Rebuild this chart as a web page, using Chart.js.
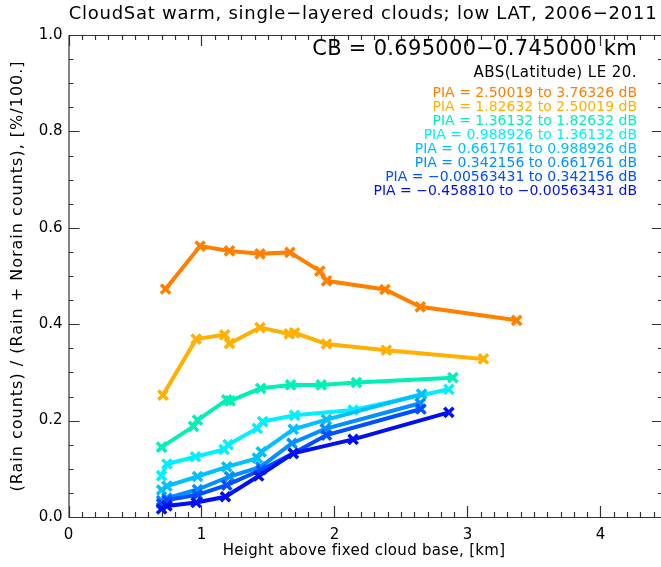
<!DOCTYPE html>
<html>
<head>
<meta charset="utf-8">
<title>CloudSat rain fraction vs height</title>
<script src="https://cdn.jsdelivr.net/npm/chart.js@4/dist/chart.umd.min.js"></script>
<style>
  html, body { margin: 0; padding: 0; background: #fff; overflow: hidden; }
  #wrap { width: 661px; height: 567px; }
</style>
</head>
<body>
<div id="wrap"><canvas id="rainFrac" width="661" height="567"></canvas></div>
<script>
// PIA bins, top of the legend first
const piaBins = [
  'PIA = 2.50019 to 3.76326 dB',
  'PIA = 1.82632 to 2.50019 dB',
  'PIA = 1.36132 to 1.82632 dB',
  'PIA = 0.988926 to 1.36132 dB',
  'PIA = 0.661761 to 0.988926 dB',
  'PIA = 0.342156 to 0.661761 dB',
  'PIA = \u22120.00563431 to 0.342156 dB',
  'PIA = \u22120.458810 to \u22120.00563431 dB'
];
const binColors = ['#ff8000', '#ffb000', '#00f0b8', '#00f0ff', '#00c0ff', '#0090ff', '#0050ff', '#0010f0'];

// height above cloud base [km] and rain fraction, one pair per PIA bin
const hgtPia1 = [0.73, 0.99, 1.21, 1.44, 1.665, 1.89, 1.94, 2.38, 2.645, 3.37];
const fracPia1 = [0.473, 0.562, 0.552, 0.546, 0.549, 0.510, 0.490, 0.472, 0.436, 0.408];

const hgtPia2 = [0.71, 0.96, 1.175, 1.21, 1.44, 1.66, 1.70, 1.94, 2.39, 3.12];
const fracPia2 = [0.253, 0.369, 0.378, 0.360, 0.393, 0.380, 0.382, 0.359, 0.346, 0.328];

const hgtPia3 = [0.70, 0.94, 0.97, 1.19, 1.215, 1.445, 1.67, 1.90, 2.165, 2.89];
const fracPia3 = [0.145, 0.188, 0.201, 0.243, 0.241, 0.267, 0.274, 0.274, 0.279, 0.289];

const hgtPia4 = [0.70, 0.74, 0.955, 1.17, 1.20, 1.42, 1.46, 1.70, 2.14, 2.86];
const fracPia4 = [0.086, 0.110, 0.125, 0.140, 0.150, 0.184, 0.198, 0.211, 0.222, 0.265];

const hgtPia5 = [0.70, 0.74, 0.97, 1.19, 1.42, 1.45, 1.69, 1.94, 2.655];
const fracPia5 = [0.056, 0.064, 0.084, 0.104, 0.122, 0.135, 0.182, 0.202, 0.255];

const hgtPia6 = [0.70, 0.74, 0.97, 1.21, 1.445, 1.68, 1.93, 2.645];
const fracPia6 = [0.034, 0.039, 0.057, 0.084, 0.104, 0.153, 0.183, 0.236];

const hgtPia7 = [0.70, 0.74, 0.97, 1.19, 1.45, 1.69, 1.94, 2.65];
const fracPia7 = [0.028, 0.035, 0.046, 0.066, 0.098, 0.132, 0.170, 0.224];

const hgtPia8 = [0.70, 0.74, 0.96, 1.18, 1.43, 1.69, 2.14, 2.86];
const fracPia8 = [0.017, 0.023, 0.030, 0.042, 0.085, 0.132, 0.161, 0.217];

const xTicks = [0, 1, 2, 3, 4];
const yTicks = [0.0, 0.2, 0.4, 0.6, 0.8, 1.0];

const heights = [hgtPia1, hgtPia2, hgtPia3, hgtPia4, hgtPia5, hgtPia6, hgtPia7, hgtPia8];
const fracs = [fracPia1, fracPia2, fracPia3, fracPia4, fracPia5, fracPia6, fracPia7, fracPia8];

const FONT = '"DejaVu Sans", "Liberation Sans", sans-serif';

// IDL-style frame with inward major/minor ticks. The x range really ends
// at 4.47 km, just past the canvas edge, so the frame is carried on by
// extrapolating the scale and only the right-hand ticks peek in.
const frameTicks = {
  id: 'frameTicks',
  afterDraw(chart) {
    const { ctx, chartArea: a, scales: { x, y } } = chart;
    const right = x.getPixelForValue(4.47);
    ctx.save();
    ctx.strokeStyle = '#333';
    ctx.lineWidth = 1.2;
    ctx.beginPath();
    ctx.moveTo(right, a.top + 0.5); ctx.lineTo(a.left + 0.5, a.top + 0.5);
    ctx.lineTo(a.left + 0.5, a.bottom + 0.5); ctx.lineTo(right, a.bottom + 0.5);
    for (let i = 0; i <= 44; i++) {
      const px = Math.round(x.getPixelForValue(i / 10)) + 0.5;
      const len = i % 10 === 0 ? 11 : 5;
      ctx.moveTo(px, a.bottom); ctx.lineTo(px, a.bottom - len);
      ctx.moveTo(px, a.top); ctx.lineTo(px, a.top + len);
    }
    for (let j = 0; j <= 20; j++) {
      const py = Math.round(y.getPixelForValue(j / 20)) + 0.5;
      const len = j % 4 === 0 ? 11 : 5;
      ctx.moveTo(a.left, py); ctx.lineTo(a.left + len, py);
      ctx.moveTo(right, py); ctx.lineTo(right - len, py);
    }
    ctx.stroke();
    ctx.restore();
  }
};

function spacedText(ctx, text, x, y, font, spacing, color) {
  ctx.font = font;
  ctx.letterSpacing = spacing + 'px';
  ctx.fillStyle = color || '#000';
  ctx.fillText(text, x, y);
}

// title, axis titles and the right-aligned annotation block
const annotations = {
  id: 'annotations',
  afterDraw(chart) {
    const { ctx, chartArea: a } = chart;
    ctx.save();
    ctx.textBaseline = 'middle';
    ctx.textAlign = 'center';
    spacedText(ctx, 'CloudSat warm, single\u2212layered clouds; low LAT, 2006\u22122011', 363, 14, '18px ' + FONT, 0.75);
    spacedText(ctx, 'Height above fixed cloud base, [km]', 364, 551, '15px ' + FONT, 0.3);

    ctx.save();
    ctx.translate(18, (a.top + a.bottom) / 2);
    ctx.rotate(-Math.PI / 2);
    spacedText(ctx, '(Rain counts) / (Rain + Norain counts), [%/100.]', 0, 0, '16px ' + FONT, 1);
    ctx.restore();

    ctx.textAlign = 'right';
    spacedText(ctx, 'CB = 0.695000\u22120.745000 km', 637, 50, '21px ' + FONT, 0.3);
    spacedText(ctx, 'ABS(Latitude) LE 20.', 637, 73, '15px ' + FONT, 0.45);
    piaBins.forEach((t, i) => {
      spacedText(ctx, t, 637, 93 + i * 14, '14px ' + FONT, 0, binColors[i]);
    });
    ctx.restore();
  }
};

const datasets = piaBins.map((label, i) => ({
  label,
  data: heights[i].map((h, k) => ({ x: h, y: fracs[i][k] })),
  borderColor: binColors[i],
  backgroundColor: binColors[i],
  borderWidth: 4,
  pointStyle: 'crossRot',
  pointRadius: 6.5,
  pointBorderWidth: 3.5,
  tension: 0,
  order: piaBins.length - 1 - i
}));

new Chart(document.getElementById('rainFrac'), {
  type: 'line',
  data: { datasets },
  options: {
    responsive: false,
    animation: false,
    devicePixelRatio: 1,
    // no room reserved for marker overflow: the plot runs to the canvas edge
    layout: { autoPadding: false, padding: { top: 35, right: 0, left: 0, bottom: 0 } },
    plugins: { legend: { display: false }, tooltip: { enabled: false } },
    scales: {
      x: {
        type: 'linear',
        min: 0, max: 4.455,
        afterFit(s) { s.height = 50; },
        afterBuildTicks(s) { s.ticks = xTicks.map(v => ({ value: v })); },
        grid: { display: false, drawTicks: false },
        border: { display: false },
        ticks: { color: '#000', padding: 9, font: { family: FONT, size: 15 }, maxRotation: 0,
                 callback: v => String(v) }
      },
      y: {
        type: 'linear',
        min: 0, max: 1,
        afterFit(s) { s.width = 68.5; },
        afterBuildTicks(s) { s.ticks = yTicks.map(v => ({ value: v })); },
        grid: { display: false, drawTicks: false },
        border: { display: false },
        ticks: { color: '#000', padding: 6, font: { family: FONT, size: 15 },
                 callback: v => Number(v).toFixed(1) }
      }
    }
  },
  plugins: [frameTicks, annotations]
});
</script>
</body>
</html>
